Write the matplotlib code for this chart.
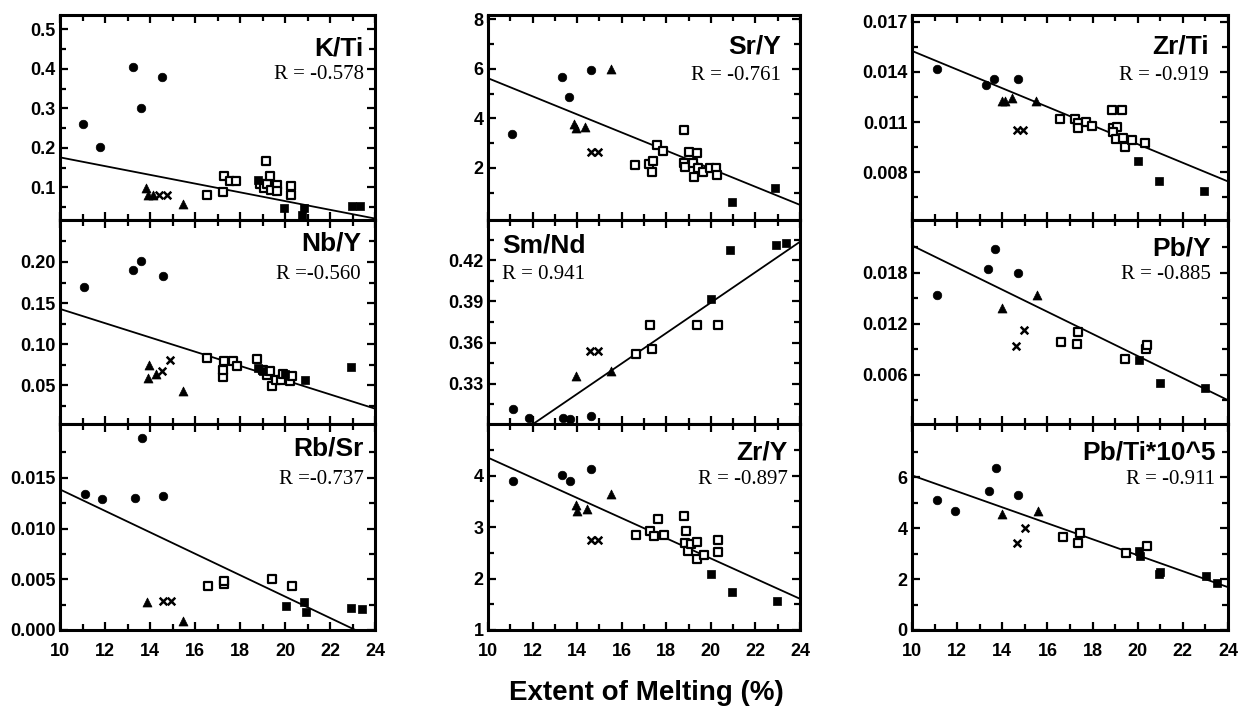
import matplotlib
matplotlib.use("Agg")
import matplotlib.pyplot as plt
import numpy as np

# Extent of melting (%) on x, ratio on y.  Group codes:
# c = filled circle, t = triangle, x = cross, o = open square, f = filled square

# K/Ti
kti_x = [11.04, 11.78, 13.26, 13.59, 14.55,
         13.8, 13.9, 14.15, 15.45,
         14.4, 14.75,
         16.55, 17.23, 17.29, 17.56, 17.82, 18.9, 19.08, 19.16, 19.19, 19.33, 19.37, 19.63, 19.63, 20.27, 20.27,
         18.81, 19.96, 20.84, 20.74, 22.96, 23.33]
kti_y = [0.261, 0.201, 0.405, 0.302, 0.380,
         0.098, 0.080, 0.080, 0.057,
         0.080, 0.080,
         0.082, 0.089, 0.130, 0.115, 0.116, 0.108, 0.098, 0.166, 0.108, 0.130, 0.093, 0.106, 0.091, 0.104, 0.082,
         0.119, 0.047, 0.047, 0.030, 0.054, 0.052]
kti_g = "ccccc" + "tttt" + "xx" + "o" * 15 + "ffffff"

# Sr/Y
sry_x = [11.09, 13.32, 13.64, 14.61,
         13.86, 13.97, 14.34, 15.51,
         14.61, 14.94,
         16.6, 17.23, 17.41, 17.37, 17.6, 17.86, 18.79, 18.79, 18.83, 19.03, 19.21, 19.24, 19.39, 19.43, 19.66,
         19.96, 20.25, 20.28,
         20.93, 22.9]
sry_y = [3.36, 5.66, 4.87, 5.96,
         3.79, 3.62, 3.65, 6.0,
         2.65, 2.65,
         2.13, 2.17, 2.27, 1.84, 2.91, 2.68, 3.52, 2.2, 2.03, 2.65, 2.2, 1.63, 2.61, 2.0, 1.82,
         2.0, 2.0, 1.73,
         0.64, 1.18]
sry_g = "cccc" + "tttt" + "xx" + "o" * 18 + "ff"

# Zr/Ti
zrti_x = [11.09, 13.3, 13.65, 14.68,
          13.97, 14.12, 14.42, 15.49,
          14.64, 14.93,
          16.56, 17.22, 17.37, 17.37, 17.71, 17.96, 18.85, 19.29, 18.89, 19.1, 18.89, 19.04, 19.36, 19.44,
          19.73, 20.32,
          20.03, 20.96, 22.94]
zrti_y = [0.01420, 0.01320, 0.01359, 0.01359,
          0.01228, 0.01228, 0.01244, 0.01228,
          0.01053, 0.01053,
          0.01121, 0.01117, 0.01097, 0.01067, 0.01103, 0.01077, 0.01172, 0.01172, 0.01067, 0.01071,
          0.01041, 0.01001, 0.01007, 0.00953, 0.00991, 0.00977,
          0.00866, 0.00746, 0.00690]
zrti_g = "cccc" + "tttt" + "xx" + "o" * 16 + "fff"

# Nb/Y
nby_x = [11.07, 13.26, 13.59, 14.56,
         13.96, 13.93, 14.27, 15.45,
         14.52, 14.89,
         16.52, 17.23, 17.23, 17.29, 17.7, 17.85, 18.74, 19.04, 19.19, 19.33, 19.41, 19.6, 19.81, 19.9,
         20.22, 20.3,
         18.81, 19.0, 20.0, 20.89, 22.92]
nby_y = [0.1694, 0.1899, 0.2009, 0.1825,
         0.0745, 0.0591, 0.0640, 0.0427,
         0.0672, 0.0803,
         0.0827, 0.0598, 0.0692, 0.0794, 0.0794, 0.0733, 0.0815, 0.0692, 0.0631, 0.0680, 0.0488, 0.0569,
         0.0569, 0.0639, 0.0552, 0.0614,
         0.0712, 0.0680, 0.0639, 0.0561, 0.0725]
nby_g = "cccc" + "tttt" + "xx" + "o" * 16 + "fffff"

# Sm/Nd
smnd_x = [11.12, 11.84, 13.37, 13.67, 14.64,
          13.97, 15.54,
          14.57, 14.94,
          16.63, 17.29, 17.37, 19.36, 20.3,
          20.0, 20.88, 22.92, 23.37]
smnd_y = [0.3117, 0.3054, 0.3054, 0.3045, 0.3067,
          0.3359, 0.3396,
          0.3538, 0.3538,
          0.3518, 0.3729, 0.3550, 0.3729, 0.3729,
          0.3917, 0.4271, 0.4313, 0.4325]
smnd_g = "ccccc" + "tt" + "xx" + "ooooo" + "ffff"

# Pb/Y
pby_x = [11.12, 13.38, 13.68, 14.68,
         14.0, 15.52,
         14.61, 14.96,
         16.62, 17.3, 17.37, 19.44, 20.37, 20.4,
         20.07, 20.99, 22.98]
pby_y = [0.01543, 0.01839, 0.0208, 0.0180,
         0.0139, 0.01536,
         0.00943, 0.01121,
         0.00983, 0.00963, 0.01101, 0.00786, 0.00904, 0.0095,
         0.00778, 0.00501, 0.00442]
pby_g = "cccc" + "tt" + "xx" + "oooooo" + "fff"

# Rb/Sr
rbsr_x = [11.11, 11.85, 13.33, 13.63, 14.59,
          13.88, 15.48,
          14.56, 14.92,
          16.59, 17.29, 17.29, 19.41, 20.33,
          20.03, 20.84, 20.93, 22.92, 23.41]
rbsr_y = [0.01342, 0.01293, 0.01302, 0.01889, 0.01325,
          0.00271, 0.00090,
          0.0029, 0.0029,
          0.00429, 0.00452, 0.0048, 0.00505, 0.00429,
          0.00238, 0.00271, 0.00182, 0.00215, 0.00205]
rbsr_g = "ccccc" + "tt" + "xx" + "ooooo" + "fffff"

# Zr/Y
zry_x = [11.12, 13.34, 13.67, 14.64,
         13.97, 13.99, 14.42, 15.54,
         14.61, 14.94,
         16.63, 17.29, 17.46, 17.63, 17.9, 18.79, 18.88, 18.84, 18.98, 19.13, 19.36, 19.39, 19.69, 20.33, 20.33,
         20.0, 20.93, 22.95]
zry_y = [3.90, 4.005, 3.90, 4.13,
         3.43, 3.32, 3.34, 3.64,
         2.75, 2.74,
         2.85, 2.92, 2.82, 3.15, 2.85, 3.21, 2.92, 2.69, 2.54, 2.67, 2.71, 2.38, 2.46, 2.75, 2.51,
         2.08, 1.73, 1.57]
zry_g = "cccc" + "tttt" + "xx" + "o" * 15 + "fff"

# Pb/Ti*10^5
pbti_x = [11.12, 11.91, 13.43, 13.72, 14.71,
          14.0, 15.6,
          14.64, 15.01,
          16.68, 17.34, 17.44, 19.48, 20.4,
          20.07, 20.1, 20.96, 20.99, 23.03, 23.5]
pbti_y = [5.11, 4.69, 5.46, 6.37, 5.31,
          4.56, 4.69,
          3.44, 4.03,
          3.64, 3.44, 3.81, 3.02, 3.31,
          3.11, 2.91, 2.19, 2.28, 2.12, 1.83]
pbti_g = "ccccc" + "tt" + "xx" + "ooooo" + "ffffff"

# Regression lines: value at 10 % melting and slope
line_start = [0.176, 5.62, 0.01526, 0.1429, 0.2784, 0.0212, 0.01385, 4.347, 6.08]
line_slope = [-0.01105, -0.365, -0.000558, -0.00866, 0.01107, -0.0013, -0.001055, -0.1958, -0.314]

titles = ["K/Ti", "Sr/Y", "Zr/Ti", "Nb/Y", "Sm/Nd", "Pb/Y", "Rb/Sr", "Zr/Y", "Pb/Ti*10^5"]
r_texts = ["R = -0.578", "R = -0.761", "R = -0.919", "R =-0.560", "R = 0.941", "R = -0.885",
           "R =-0.737", "R = -0.897", "R = -0.911"]

yticks = [[0.1, 0.2, 0.3, 0.4, 0.5], [2, 4, 6, 8], [0.008, 0.011, 0.014, 0.017],
          [0.05, 0.10, 0.15, 0.20], [0.33, 0.36, 0.39, 0.42], [0.006, 0.012, 0.018],
          [0.0, 0.005, 0.010, 0.015], [1, 2, 3, 4], [0, 2, 4, 6]]
ytick_labels = [["0.1", "0.2", "0.3", "0.4", "0.5"], ["2", "4", "6", "8"],
                ["0.008", "0.011", "0.014", "0.017"], ["0.05", "0.10", "0.15", "0.20"],
                ["0.33", "0.36", "0.39", "0.42"], ["0.006", "0.012", "0.018"],
                ["0.000", "0.005", "0.010", "0.015"], ["1", "2", "3", "4"], ["0", "2", "4", "6"]]
yminor = [[0.05, 0.15, 0.25, 0.35, 0.45], [1, 3, 5, 7], [0.0065, 0.0095, 0.0125, 0.0155],
          [0.025, 0.075, 0.125, 0.175, 0.225], [0.315, 0.345, 0.375, 0.405, 0.435],
          [0.003, 0.009, 0.015, 0.021], [0.0025, 0.0075, 0.0125, 0.0175],
          [1.5, 2.5, 3.5, 4.5], [1, 3, 5, 7]]
ylims = [(0.0176, 0.536), (-0.1, 8.17), (0.00514, 0.01741), (0.003, 0.251), (0.3008, 0.4492),
         (0.0002, 0.0242), (0.0, 0.0203), (1.0, 5.0), (0.0, 8.1)]

xs = [kti_x, sry_x, zrti_x, nby_x, smnd_x, pby_x, rbsr_x, zry_x, pbti_x]
ys = [kti_y, sry_y, zrti_y, nby_y, smnd_y, pby_y, rbsr_y, zry_y, pbti_y]
gs = [kti_g, sry_g, zrti_g, nby_g, smnd_g, pby_g, rbsr_g, zry_g, pbti_g]

# label placement (axes fraction): x, title baseline, R baseline, alignment
label_pos = [(0.965, 0.80, 0.69, "right"), (0.94, 0.81, 0.685, "right"), (0.94, 0.81, 0.685, "right"),
             (0.955, 0.85, 0.71, "right"), (0.045, 0.84, 0.71, "left"), (0.945, 0.825, 0.71, "right"),
             (0.965, 0.845, 0.71, "right"), (0.96, 0.83, 0.71, "right"), (0.96, 0.83, 0.71, "right")]

styles = {
    "c": dict(marker="o", s=38, facecolor="black", edgecolor="black", linewidths=0.5),
    "t": dict(marker="^", s=42, facecolor="black", edgecolor="black", linewidths=0.5),
    "x": dict(marker="x", s=30, color="black", linewidths=1.8),
    "o": dict(marker="s", s=26, facecolor="white", edgecolor="black", linewidths=1.6),
    "f": dict(marker="s", s=40, facecolor="black", edgecolor="black", linewidths=0.5),
}

W, H = 1241, 709
fig = plt.figure(figsize=(W / 100, H / 100), dpi=100)

# axes boxes in pixels
col_left = [60, 488, 912]
col_width = [315, 312, 316]
row_top = [15, 220, 424]
row_height = [205, 204, 206]

tick_font = dict(family="Liberation Sans", weight="bold", size=13)

for i in range(9):
    r, c = divmod(i, 3)
    ax = fig.add_axes([col_left[c] / W, 1 - (row_top[r] + row_height[r]) / H,
                       col_width[c] / W, row_height[r] / H])

    px = np.array(xs[i])
    py = np.array(ys[i])
    codes = np.array(list(gs[i]))
    for code in ["o", "c", "t", "x", "f"]:
        m = codes == code
        if m.any():
            ax.scatter(px[m], py[m], zorder=3, clip_on=False, **styles[code])

    lx = np.array([10, 24])
    ax.plot(lx, line_start[i] + line_slope[i] * (lx - 10), color="black", lw=1.3, zorder=2)

    ax.set_xlim(10, 24)
    ax.set_ylim(*ylims[i])
    ax.set_xticks(range(10, 25, 2))
    ax.set_xticks(range(11, 25, 2), minor=True)
    ax.set_yticks(yticks[i])
    ax.set_yticks(yminor[i], minor=True)
    ax.set_yticklabels(ytick_labels[i], fontdict=tick_font)
    if r == 2:
        ax.set_xticklabels([str(v) for v in range(10, 25, 2)], fontdict=tick_font)
    else:
        ax.set_xticklabels([])

    ax.tick_params(which="both", direction="in", top=True, right=True, width=1.6)
    ax.tick_params(axis="y", pad=3)
    ax.tick_params(axis="x", pad=9)
    ax.tick_params(which="major", length=6)
    ax.tick_params(which="minor", length=4)
    for sp in ax.spines.values():
        sp.set_linewidth(2.2)

    tx, ty, ry, ha = label_pos[i]
    ax.text(tx, ty, titles[i], transform=ax.transAxes, ha=ha, va="baseline",
            fontsize=19, fontweight="bold", family="Liberation Sans", zorder=4)
    ax.text(tx, ry, r_texts[i], transform=ax.transAxes, ha=ha, va="baseline",
            fontsize=15, family="Liberation Serif", zorder=4)

fig.text(646 / W, 1 - 693 / H, "Extent of Melting (%)", ha="center", va="center",
         fontsize=20, fontweight="bold", family="Liberation Sans")

fig.savefig("out.png", dpi=100)
